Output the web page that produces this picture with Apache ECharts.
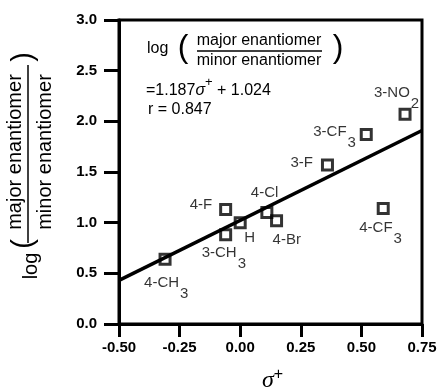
<!DOCTYPE html>
<html>
<head>
<meta charset="utf-8">
<script src="https://cdn.jsdelivr.net/npm/echarts@6/dist/echarts.min.js"></script>
<style>
  html, body { margin: 0; padding: 0; background: #fff; }
  #chart { width: 442px; height: 389px; }
</style>
</head>
<body>
<div id="chart"></div>
<script>
// substituent, sigma+ and log(major/minor)
const subst = ["4-CH3", "3-CH3", "4-F", "H", "4-Cl", "4-Br", "3-F", "4-CF3", "3-CF3", "3-NO2"];
const sigmaPlus = [-0.31, -0.06, -0.06, 0.0, 0.11, 0.15, 0.36, 0.59, 0.52, 0.68];
const logRatio = [0.64, 0.88, 1.13, 1.0, 1.1, 1.02, 1.57, 1.14, 1.87, 2.07];
// fitted line end points
const fitX = [-0.5, 0.75];
const fitY = [0.43, 1.91];
// label placement next to each square (px)
const labelOffsets = [
  [-21, 16], [-24, 11], [-36, -12], [4, 8], [-16, -27],
  [-4, 12], [-37, -10], [-24, 12], [-53, -10], [-31, -29],
];

const FONT = "'Liberation Sans', Arial, Helvetica, sans-serif";
const chart = echarts.init(document.getElementById("chart"));

const pts = subst.map((name, i) => ({
  name: name,
  value: [sigmaPlus[i], logRatio[i]],
  label: { offset: labelOffsets[i] },
}));

function labelText(name) {
  const m = name.match(/^(.*[A-Z])(\d)$/);
  return m ? "{n|" + m[1] + "}{s|" + m[2] + "}" : "{n|" + name + "}";
}

chart.setOption({
  animation: false,
  backgroundColor: "#fff",
  grid: {
    left: 119, right: 20, top: 20, bottom: 65,
    show: true, borderColor: "#000", borderWidth: 3,
  },
  xAxis: {
    type: "value",
    min: -0.5, max: 0.75, interval: 0.25,
    splitLine: { show: false },
    axisLine: { onZero: false, lineStyle: { color: "#000", width: 3 } },
    axisTick: { length: 13, lineStyle: { color: "#000", width: 3 } },
    axisLabel: {
      color: "#000", fontSize: 15, fontWeight: "bold", fontFamily: FONT, margin: 16,
      showMinLabel: true, showMaxLabel: true,
      formatter: (v) => v.toFixed(2),
    },
  },
  yAxis: {
    type: "value",
    min: 0, max: 3, interval: 0.5,
    splitLine: { show: false },
    axisLine: { onZero: false, lineStyle: { color: "#000", width: 3 } },
    axisTick: { length: 15, lineStyle: { color: "#000", width: 3 } },
    axisLabel: {
      color: "#000", fontSize: 15, fontWeight: "bold", fontFamily: FONT, margin: 22,
      formatter: (v) => v.toFixed(1),
    },
  },
  series: [
    {
      type: "line",
      data: fitX.map((x, i) => [x, fitY[i]]),
      symbol: "none",
      silent: true,
      lineStyle: { color: "#000", width: 3.5 },
      z: 2,
    },
    {
      type: "scatter",
      data: pts,
      symbol: "rect",
      symbolSize: 10,
      itemStyle: { color: "rgba(0,0,0,0)", borderColor: "#000", borderWidth: 3 },
      z: 3,
      label: {
        show: true,
        position: "inside",
        align: "left",
        verticalAlign: "top",
        color: "#000",
        textBorderWidth: 0,
        formatter: (p) => labelText(p.name),
        rich: {
          n: { fontSize: 15, lineHeight: 17, verticalAlign: "top", color: "#000", fontFamily: FONT },
          s: { fontSize: 15, lineHeight: 17, verticalAlign: "top", color: "#000", fontFamily: FONT, padding: [11, 0, 0, 1] },
        },
      },
    },
  ],
  graphic: [
    // equation box
    { type: "text", x: 147, y: 49, style: { text: "log", font: "16px " + FONT, fill: "#000", align: "left", verticalAlign: "middle" } },
    { type: "text", x: 183, y: 48, style: { text: "(", font: "32px " + FONT, fill: "#000", align: "center", verticalAlign: "middle" } },
    { type: "text", x: 259, y: 41, style: { text: "major enantiomer", font: "16px " + FONT, fill: "#000", align: "center", verticalAlign: "middle" } },
    { type: "line", shape: { x1: 197, y1: 51, x2: 322, y2: 51 }, style: { stroke: "#000", lineWidth: 1.5 } },
    { type: "text", x: 259, y: 61, style: { text: "minor enantiomer", font: "16px " + FONT, fill: "#000", align: "center", verticalAlign: "middle" } },
    { type: "text", x: 338, y: 48, style: { text: ")", font: "32px " + FONT, fill: "#000", align: "center", verticalAlign: "middle" } },
    {
      type: "text", x: 146, y: 89,
      style: {
        text: "{m|=1.187}{g|σ}{p|+}{m| + 1.024}",
        fill: "#000", align: "left", verticalAlign: "middle",
        rich: {
          m: { fontSize: 16, fontFamily: FONT, lineHeight: 20, verticalAlign: "bottom" },
          g: { fontSize: 16, fontFamily: FONT, fontStyle: "italic", lineHeight: 20, verticalAlign: "bottom" },
          p: { fontSize: 13, fontFamily: FONT, lineHeight: 14, verticalAlign: "bottom", padding: [0, 0, 10, 0] },
        },
      },
    },
    { type: "text", x: 148, y: 110, style: { text: "r = 0.847", font: "16px " + FONT, fill: "#000", align: "left", verticalAlign: "middle" } },
    // y axis title, rotated
    { type: "text", x: 15, y: 152, rotation: Math.PI / 2, style: { text: "major enantiomer", font: "20px " + FONT, fill: "#000", align: "center", verticalAlign: "middle" } },
    { type: "line", shape: { x1: 28, y1: 65, x2: 28, y2: 243 }, style: { stroke: "#000", lineWidth: 1.5 } },
    { type: "text", x: 45, y: 152, rotation: Math.PI / 2, style: { text: "minor enantiomer", font: "20px " + FONT, fill: "#000", align: "center", verticalAlign: "middle" } },
    { type: "text", x: 24, y: 57, rotation: Math.PI / 2, style: { text: ")", font: "29px " + FONT, fill: "#000", align: "center", verticalAlign: "middle" } },
    { type: "text", x: 24, y: 244, rotation: Math.PI / 2, style: { text: "(", font: "29px " + FONT, fill: "#000", align: "center", verticalAlign: "middle" } },
    { type: "text", x: 31, y: 266, rotation: Math.PI / 2, style: { text: "log", font: "20px " + FONT, fill: "#000", align: "center", verticalAlign: "middle" } },
    // x axis title
    {
      type: "text", x: 262, y: 381,
      style: {
        text: "{s|σ}{p|+}",
        fill: "#000", align: "left", verticalAlign: "middle",
        rich: {
          s: { fontSize: 24, fontFamily: "'Liberation Serif', serif", fontStyle: "italic", lineHeight: 24, verticalAlign: "bottom" },
          p: { fontSize: 16, fontFamily: FONT, lineHeight: 16, verticalAlign: "bottom", padding: [0, 0, 10, 0] },
        },
      },
    },
  ],
});
</script>
</body>
</html>
